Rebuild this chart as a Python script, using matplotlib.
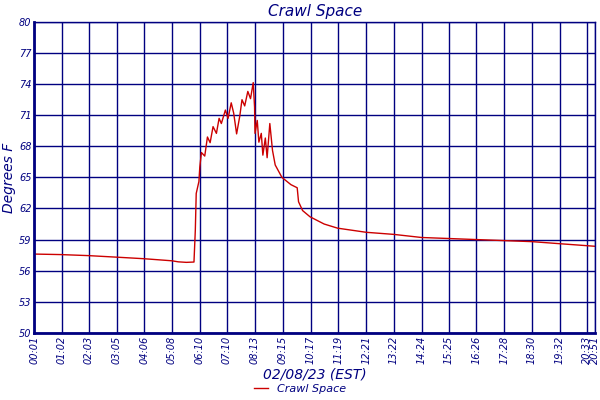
import matplotlib
matplotlib.use("Agg")
from matplotlib import pyplot as plt

# minutes since midnight, temperature (F)
times = [1, 60, 122, 185, 246, 308, 322, 340, 357, 360, 362, 368, 370, 373.6, 381, 387, 393,
         399.5, 407, 413, 418, 427, 433, 440, 445.5, 452, 459, 464, 470, 477, 483, 489, 492,
         493, 498, 501.6, 507, 510.5, 516, 520, 526, 532, 538, 553, 573, 587, 590, 599,
         615.5, 647, 677, 741, 802, 864, 925, 986, 1048, 1110, 1172, 1251]
temps = [57.6, 57.55, 57.45, 57.3, 57.15, 56.95, 56.85, 56.8, 56.83, 59.9, 63.45, 64.6, 66.0,
         67.4, 67.06, 68.9, 68.35, 69.9, 69.25, 70.7, 70.2, 71.5, 70.7, 72.2, 71.2, 69.2, 70.9,
         72.5, 71.9, 73.3, 72.6, 74.15, 71.8, 69.25, 70.5, 68.4, 69.25, 67.15, 68.8, 66.9, 70.2,
         67.6, 66.2, 65.0, 64.3, 64.0, 62.65, 61.8, 61.2, 60.5, 60.1, 59.7, 59.5, 59.2, 59.1,
         59.0, 58.9, 58.8, 58.6, 58.35]

tick_labels = ["00:01", "01:02", "02:03", "03:05", "04:06", "05:08", "06:10", "07:10", "08:13",
               "09:15", "10:17", "11:19", "12:21", "13:22", "14:24", "15:25", "16:26", "17:28",
               "18:30", "19:32", "20:33", "20:51"]
tick_pos = [int(s[:2]) * 60 + int(s[3:]) for s in tick_labels]
y_ticks = [50, 53, 56, 59, 62, 65, 68, 71, 74, 77, 80]

navy = '#000080'
fig = plt.figure(figsize=(6, 4), dpi=100, facecolor='white')
ax = fig.add_axes([0.057, 0.168, 0.935, 0.777])
ax.plot(times, temps, color='#cc0000', linewidth=1.0, label='Crawl Space')
ax.set_xlim(1, 1251)
ax.set_ylim(50, 80)
ax.set_xticks(tick_pos, tick_labels, rotation=90)
ax.set_yticks(y_ticks)
ax.grid(color=navy, linewidth=1)
ax.tick_params(colors=navy, labelsize=7, length=0, pad=2)
for lab in ax.get_xticklabels() + ax.get_yticklabels():
    lab.set_fontstyle('italic')
for side in ['top', 'right']:
    ax.spines[side].set_color(navy)
    ax.spines[side].set_linewidth(1)
for side in ['left', 'bottom']:
    ax.spines[side].set_color(navy)
    ax.spines[side].set_linewidth(2)
ax.set_title('Crawl Space', color=navy, fontsize=11, fontstyle='italic', pad=4)
ax.set_ylabel('Degrees F', color=navy, fontsize=10, fontstyle='italic', labelpad=2)
ax.set_xlabel('02/08/23 (EST)', color=navy, fontsize=10, fontstyle='italic', labelpad=3)
leg = fig.legend(loc='lower center', bbox_to_anchor=(0.5, -0.01), frameon=False,
                 handlelength=1.2, prop={'style': 'italic', 'size': 8})
for t in leg.get_texts():
    t.set_color(navy)
fig.savefig('out.png', dpi=100)
